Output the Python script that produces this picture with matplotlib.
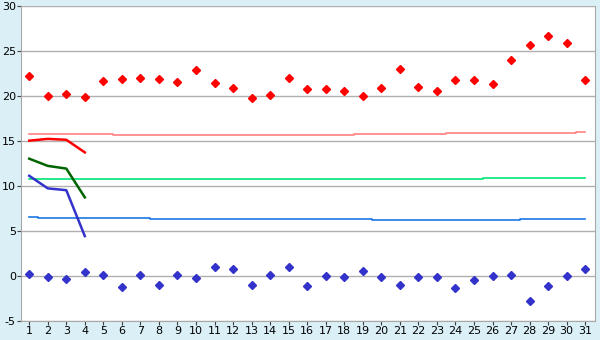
import matplotlib.pyplot as plt

plt.rcParams['axes.unicode_minus'] = False

days = list(range(1, 32))

# daily points
red_pts = [22.2, 20.0, 20.2, 19.8, 21.6, 21.9, 22.0, 21.8, 21.5, 22.9,
           21.4, 20.9, 19.7, 20.1, 22.0, 20.7, 20.7, 20.5, 20.0, 20.9,
           23.0, 21.0, 20.5, 21.7, 21.7, 21.3, 24.0, 25.6, 26.6, 25.8, 21.7]
blue_pts = [0.2, -0.1, -0.4, 0.4, 0.1, -1.3, 0.1, -1.0, 0.1, -0.3,
            1.0, 0.7, -1.0, 0.1, 1.0, -1.2, 0.0, -0.2, 0.5, -0.2,
            -1.0, -0.2, -0.2, -1.4, -0.5, 0.0, 0.1, -2.8, -1.1, 0.0, 0.7]

# slowly changing reference levels
pink_lvl = [15.7]*5 + [15.6]*13 + [15.7]*5 + [15.8]*4 + [15.9]*3 + [16.0]
green_lvl = [10.7]*25 + [10.8]*6
azure_lvl = [6.5] + [6.4]*6 + [6.3]*12 + [6.2]*8 + [6.3]*4

# first days only
short_days = [1, 2, 3, 4]
red_line = [15.0, 15.2, 15.1, 13.7]
green_line = [13.0, 12.2, 11.9, 8.7]
blue_line = [11.1, 9.7, 9.5, 4.4]

bg = '#daeff6'
fig = plt.figure(figsize=(6, 3.4), dpi=100, facecolor=bg)
ax = fig.add_axes([0.0345, 0.0568, 0.9575, 0.9265])
ax.set_facecolor('white')

ax.plot(days, pink_lvl, color='#ff8080', lw=1.2, drawstyle='steps-mid')
ax.plot(days, green_lvl, color='#00e676', lw=1.2, drawstyle='steps-mid')
ax.plot(days, azure_lvl, color='#1a78e6', lw=1.2, drawstyle='steps-mid')

ax.plot(short_days, red_line, color='#ff0000', lw=1.8)
ax.plot(short_days, green_line, color='#006400', lw=1.8)
ax.plot(short_days, blue_line, color='#3333cc', lw=1.8)

ax.plot(days, red_pts, 'D', color='#ff0000', ms=3.8, ls='none')
ax.plot(days, blue_pts, 'D', color='#3333cc', ms=3.8, ls='none')

ax.set_xlim(0.54, 31.54)
ax.set_ylim(-5, 30)
ax.set_xticks(days)
ax.set_yticks(range(-5, 31, 5))
ax.yaxis.grid(True, color='#b0b0b0', lw=1)
ax.set_axisbelow(True)
for s in ax.spines.values():
    s.set_color('#a8a8a8')
ax.spines['top'].set_visible(False)
ax.tick_params(axis='both', labelsize=8, color='#404040', length=3, pad=1,
               labelcolor='black')
ax.tick_params(axis='y', pad=0.5)

fig.savefig('out.png', dpi=100, facecolor=bg)
